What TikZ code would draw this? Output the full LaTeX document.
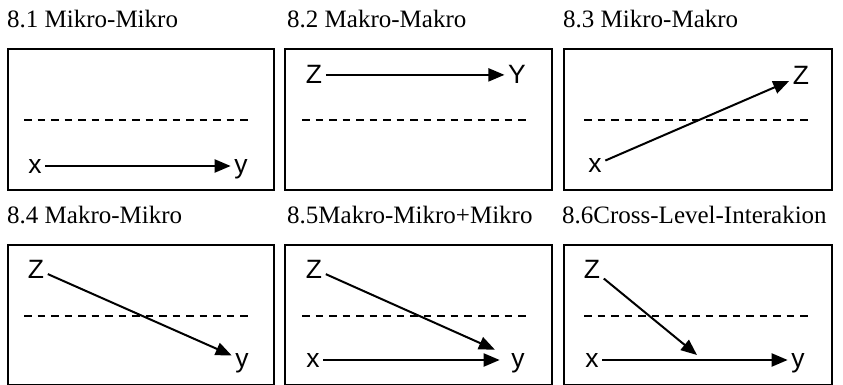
\documentclass[tikz,border=0pt]{standalone}
\usepackage{fontspec}
\setmainfont{Liberation Serif}
\newfontfamily\varfont{Liberation Sans}
\usetikzlibrary{arrows.meta,positioning}

\begin{document}
\begin{tikzpicture}[x=1pt, y=-1pt,
    panel/.style={draw=black, line width=2pt},
    level/.style={draw=black, line width=1.2pt, dash pattern=on 7.5pt off 6pt},
    title/.style={anchor=base west, inner sep=0pt, font=\fontsize{25}{30}\selectfont},
    var/.style={anchor=base, inner sep=3.5pt, text depth=0pt,
        font=\varfont\fontsize{26.5}{30}\selectfont},
    link/.style={draw=black, line width=2pt, -{Triangle[length=16pt,width=13pt]}}
    ]
    \useasboundingbox (0,0) rectangle (843,385);

    % titles
    \node (Title01) [title] at (7,28) {8.1 Mikro-Mikro};
    \node (Title02) [title] at (287,28) {8.2 Makro-Makro};
    \node (Title03) [title] at (563,28) {8.3 Mikro-Makro};
    \node (Title04) [title] at (7,223) {8.4 Makro-Mikro};
    \node (Title05) [title] at (287,223) {8.5Makro-Mikro+Mikro};
    \node (Title06) [title] at (562,223) {8.6Cross-Level-Interakion};

    % panels and level lines
    \draw [panel] (8,49.5) rectangle (274,190);
    \draw [panel] (285,49.5) rectangle (552,190);
    \draw [panel] (564,49.5) rectangle (832,190);
    \draw [panel] (8,245) rectangle (274,384.5);
    \draw [panel] (285,245) rectangle (552,384.5);
    \draw [panel] (564,245) rectangle (832,384.5);
    \draw [level] (24,120) -- (250,120);
    \draw [level] (302,120) -- (527,120);
    \draw [level] (584,120) -- (810,120);
    \draw [level] (24,316) -- (250,316);
    \draw [level] (302,316) -- (527,316);
    \draw [level] (584,316) -- (810,316);

    % 8.1
    \node (X01) [var] at (35,173) {x};
    \node (Y01) [var] at (241,173) {y};
    \draw [link] (X01) -- (Y01);

    % 8.2
    \node (Z02) [var] at (314,84) {Z};
    \node (Y02) [var] at (517,84) {Y};
    \draw [link] (Z02) -- (Y02);

    % 8.3
    \node (X03) [var] at (595,172) {x};
    \node (Z03) [var] at (801,85) {Z};
    \draw [link] (X03) -- (Z03);

    % 8.4
    \node (Z04) [var] at (36,278) {Z};
    \node (Y04) [var] at (242,367) {y};
    \draw [link] (Z04) -- (Y04);

    % 8.5
    \node (Z05) [var] at (314,278) {Z};
    \node (X05) [var] at (313,367) {x};
    \node (Y05) [var] at (518,367) {y};
    \draw [link, shorten >=14pt] (Z05) -- (Y05);
    \draw [link, shorten >=8pt] (X05) -- (Y05);

    % 8.6
    \node (Z06) [var] at (592,278) {Z};
    \node (X06) [var] at (592,367) {x};
    \node (Y06) [var] at (798,367) {y};
    \coordinate (Hit06) at (697,355);
    \draw [link] (X06) -- (Y06);
    \draw [link] (Z06) -- (Hit06);
\end{tikzpicture}
\end{document}
